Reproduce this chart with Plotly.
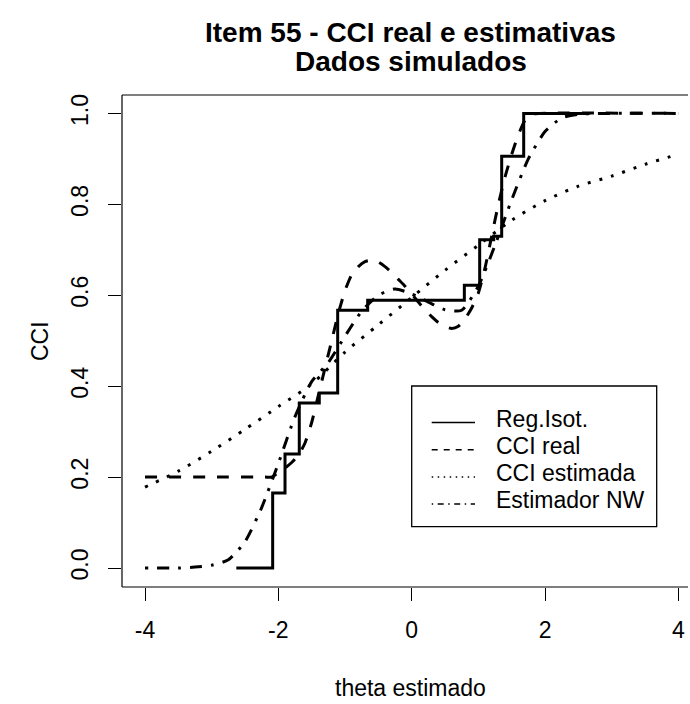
import plotly.graph_objects as go

# ---------------- data ----------------
iso_x = [-2.63, -2.085, -1.9, -1.686, -1.386, -1.11, -0.66, 0.79, 1.02, 1.23, 1.35, 1.68, 2.67]
iso_y = [0.0, 0.165, 0.251, 0.363, 0.385, 0.567, 0.589, 0.622, 0.722, 0.73, 0.906, 1.0, 1.0]

real_x = [-4, -3, -2.2, -2.1, -2.0, -1.9, -1.8, -1.7, -1.6, -1.5, -1.4, -1.3, -1.2, -1.1, -1.0,
          -0.9, -0.8, -0.7, -0.6, -0.5, -0.4, -0.3, -0.2, -0.1, 0.0, 0.1, 0.2, 0.3, 0.4, 0.5,
          0.6, 0.7, 0.8, 0.9, 1.0, 1.1, 1.2, 1.3, 1.4, 1.5, 1.6, 1.7, 1.8, 1.9, 4]
real_y = [0.2, 0.2, 0.2, 0.2, 0.21, 0.22, 0.232, 0.248, 0.275, 0.32, 0.38, 0.44, 0.5, 0.56, 0.61,
          0.645, 0.663, 0.674, 0.677, 0.673, 0.663, 0.65, 0.635, 0.62, 0.603, 0.585, 0.568, 0.553, 0.54, 0.531,
          0.527, 0.532, 0.548, 0.572, 0.605, 0.66, 0.73, 0.8, 0.86, 0.91, 0.953, 0.985, 0.998, 1.0, 1.0]

est_x = [-4, -3.5, -3, -2.5, -2, -1.5, -1, -0.5, 0, 0.5, 1, 1.5, 2, 2.5, 3, 3.5, 4]
est_y = [0.178, 0.213, 0.257, 0.305, 0.355, 0.405, 0.475, 0.535, 0.595, 0.655, 0.71, 0.765, 0.808, 0.84, 0.862, 0.888, 0.91]

nw_x = [-4, -3.5, -3.25, -3.0, -2.75, -2.5, -2.25, -2.0, -1.75, -1.5, -1.25, -1.0, -0.75, -0.5, -0.25,
        0.0, 0.25, 0.5, 0.75, 1.0, 1.25, 1.5, 1.75, 2.0, 2.25, 2.5, 3.0, 4.0]
nw_y = [0.0, 0.0, 0.002, 0.006, 0.018, 0.058, 0.133, 0.23, 0.333, 0.41, 0.452, 0.51, 0.565, 0.6, 0.614,
        0.603, 0.585, 0.568, 0.567, 0.62, 0.71, 0.81, 0.9, 0.96, 0.99, 0.998, 1.0, 1.0]

x_ticks = [-4, -2, 0, 2, 4]
x_tick_text = ["-4", "-2", "0", "2", "4"]
y_ticks = [0.0, 0.2, 0.4, 0.6, 0.8, 1.0]
y_tick_text = ["0.0", "0.2", "0.4", "0.6", "0.8", "1.0"]

legend_labels = ["Reg.Isot.", "CCI real", "CCI estimada", "Estimador NW"]
legend_dash = ["solid", "6px,6px", "1.5px,4.5px", "1.5px,4.5px,6px,4.5px"]

title_lines = ["Item 55 - CCI real e estimativas", "Dados simulados"]
x_title = "theta estimado"
y_title = "CCI"

# ---------------- layout geometry ----------------
W, H = 690, 704
ML, MR, MT, MB = 122, 2, 95, 117
FONT = "Liberation Sans, Arial, sans-serif"
PX_PER_UNIT = 66.67


def px_x(p):
    return (p - ML) / (W - ML - MR)


def px_y(p):
    return (H - MB - p) / (H - MT - MB)


x_left = -4.345
x_right = x_left + (W - ML - MR) / PX_PER_UNIT

fig = go.Figure()
fig.add_trace(go.Scatter(x=iso_x, y=iso_y, mode="lines", line=dict(color="black", width=3, shape="hv"),
                         showlegend=False))
fig.add_trace(go.Scatter(x=real_x, y=real_y, mode="lines",
                         line=dict(color="black", width=3, dash="12px,12px", shape="spline", smoothing=0.6),
                         showlegend=False))
fig.add_trace(go.Scatter(x=est_x, y=est_y, mode="lines",
                         line=dict(color="black", width=3, dash="3px,9px", shape="spline", smoothing=0.8),
                         showlegend=False))
fig.add_trace(go.Scatter(x=nw_x, y=nw_y, mode="lines",
                         line=dict(color="black", width=3, dash="3px,9px,12px,9px", shape="spline", smoothing=0.6),
                         showlegend=False))

shapes = []
annotations = []

# plot box: left, top, bottom only (right edge lies outside the cropped picture)
shapes.append(dict(type="line", xref="paper", yref="paper", x0=0, x1=0, y0=0, y1=1,
                   line=dict(color="black", width=1.2), layer="above"))
shapes.append(dict(type="line", xref="paper", yref="paper", x0=0, x1=1, y0=1, y1=1,
                   line=dict(color="black", width=1.2), layer="above"))
shapes.append(dict(type="line", xref="paper", yref="paper", x0=0, x1=1, y0=0, y1=0,
                   line=dict(color="black", width=1.2), layer="above"))

# legend (drawn manually to mimic R legend box)
shapes.append(dict(type="rect", xref="paper", yref="paper",
                   x0=px_x(411.7), x1=px_x(656.7), y0=px_y(526.7), y1=px_y(386),
                   line=dict(color="black", width=1.3), fillcolor="white", layer="above"))
row_y = [422.5, 449.7, 476.9, 504.1]
for lab, dsh, ry in zip(legend_labels, legend_dash, row_y):
    shapes.append(dict(type="line", xref="paper", yref="paper",
                       x0=px_x(431.7), x1=px_x(475), y0=px_y(ry), y1=px_y(ry),
                       line=dict(color="black", width=1.5, dash=dsh), layer="above"))
    annotations.append(dict(text=lab, xref="paper", yref="paper", x=px_x(494), y=px_y(ry - 4),
                            xanchor="left", yanchor="middle", showarrow=False,
                            font=dict(family=FONT, size=23, color="black")))

# title
for t, cy in zip(title_lines, [32.5, 61]):
    annotations.append(dict(text="<b>" + t + "</b>", xref="paper", yref="paper",
                            x=px_x(410.5), y=px_y(cy), xanchor="center", yanchor="middle",
                            showarrow=False, font=dict(family=FONT, size=28, color="black")))

# axis titles
annotations.append(dict(text=x_title, xref="paper", yref="paper", x=px_x(410.5), y=px_y(687.5),
                        xanchor="center", yanchor="middle", showarrow=False,
                        font=dict(family=FONT, size=23, color="black")))
annotations.append(dict(text=y_title, xref="paper", yref="paper", x=px_x(40), y=px_y(341),
                        xanchor="center", yanchor="middle", showarrow=False, textangle=-90,
                        font=dict(family=FONT, size=23, color="black")))

fig.update_layout(
    width=W, height=H,
    margin=dict(l=ML, r=MR, t=MT, b=MB, pad=0),
    paper_bgcolor="white", plot_bgcolor="white",
    shapes=shapes, annotations=annotations,
    showlegend=False,
    xaxis=dict(range=[x_left, x_right], tickmode="array", tickvals=x_ticks, ticktext=x_tick_text,
               ticks="outside", ticklen=13, tickwidth=1, tickcolor="black", ticklabelstandoff=9,
               showline=False, showgrid=False, zeroline=False,
               tickfont=dict(family=FONT, size=23, color="black")),
    yaxis=dict(range=[-0.0418, 1.0405], tickmode="array", tickvals=y_ticks, ticktext=y_tick_text,
               ticks="outside", ticklen=13, tickwidth=1, tickcolor="black", tickangle=-90,
               ticklabelstandoff=11,
               showline=False, showgrid=False, zeroline=False,
               tickfont=dict(family=FONT, size=23, color="black")),
)

fig.write_html("out.html")
